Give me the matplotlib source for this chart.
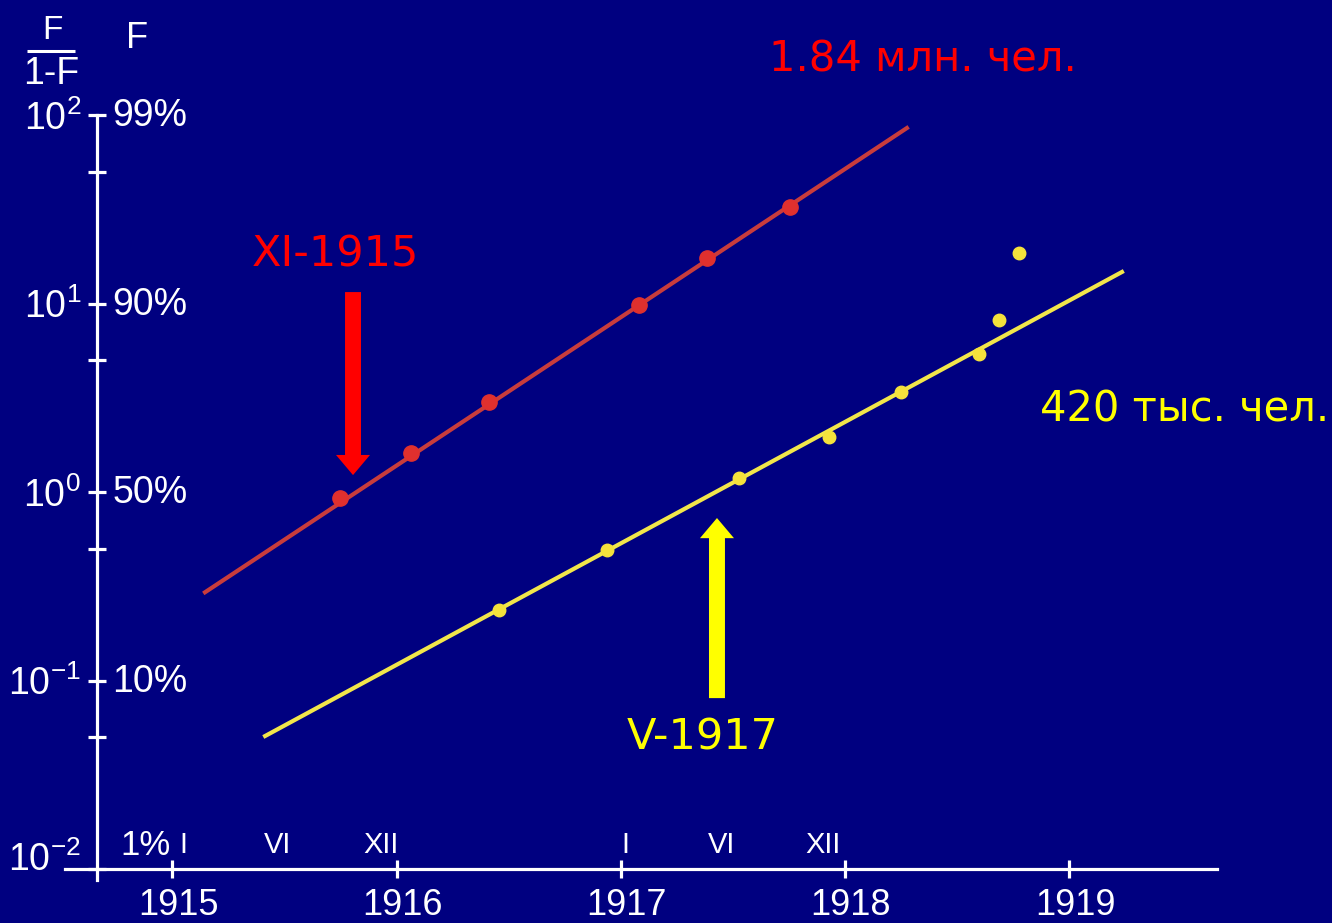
import matplotlib.pyplot as plt
from matplotlib.ticker import NullFormatter
from matplotlib.transforms import ScaledTranslation

BG = "#000080"
RED = "#ff0000"
YELLOW = "#ffff00"

# F/(1-F) by date, first wave (red) and second wave (yellow)
red_years = [1915.747, 1916.064, 1916.412, 1917.080, 1917.384, 1917.754]
red_ratio = [0.93, 1.61, 3.0, 9.8, 17.4, 32.5]
red_fit_years = [1915.145, 1918.275]
red_fit_ratio = [0.294, 85.3]

yel_years = [1916.456, 1916.938, 1917.526, 1917.927, 1918.248,
             1918.596, 1918.685, 1918.774]
yel_ratio = [0.237, 0.492, 1.19, 1.96, 3.40, 5.40, 8.17, 18.5]
yel_fit_years = [1915.413, 1919.234]
yel_fit_ratio = [0.0508, 14.7]

year_ticks = [1915, 1916, 1917, 1918, 1919]
ratio_ticks = [1e-2, 1e-1, 1e0, 1e1, 1e2]
ratio_labels = [r"$10^{-2}$", r"$10^{-1}$", r"$10^{0}$", r"$10^{1}$", r"$10^{2}$"]
share_labels = ["1%", "10%", "50%", "90%", "99%"]
minor_ticks = [0.05, 0.5, 5, 50]
month_pos = [1915.05, 1915.47, 1915.93, 1917.02, 1917.45, 1917.90]
month_names = ["I", "VI", "XII", "I", "VI", "XII"]

plt.rcParams["font.family"] = ["Liberation Sans", "DejaVu Sans"]
plt.rcParams["mathtext.fontset"] = "custom"
plt.rcParams["mathtext.rm"] = "Liberation Sans"
plt.rcParams["mathtext.it"] = "Liberation Sans"
plt.rcParams["mathtext.default"] = "regular"

fig = plt.figure(figsize=(13.32, 9.23), dpi=100, facecolor=BG)
ax = fig.add_axes([0, 0, 1, 1], facecolor=BG)
ax.set_yscale("log")
ax.set_xlim(1914.2308, 1920.1706)
ax.set_ylim(10 ** -2.286, 10 ** 2.610)

y_axis_x = 1914.6633
for side in ("top", "right"):
    ax.spines[side].set_visible(False)
ax.spines["left"].set_position(("data", y_axis_x))
ax.spines["left"].set_bounds(0.00875, 100)
ax.spines["bottom"].set_position(("data", 0.01))
ax.spines["bottom"].set_bounds(1914.5206, 1919.658)
for side in ("left", "bottom"):
    ax.spines[side].set_color("white")
    ax.spines[side].set_linewidth(2.3)

ax.set_xticks(year_ticks)
ax.set_xticklabels([str(y) for y in year_ticks], fontsize=26)
ax.set_yticks(ratio_ticks)
ax.set_yticklabels(ratio_labels, fontsize=27)
ax.set_yticks(minor_ticks, minor=True)
ax.yaxis.set_minor_formatter(NullFormatter())
ax.tick_params(axis="both", which="both", direction="inout", length=13,
               width=2.3, colors="white")
ax.tick_params(axis="x", pad=7)
ax.tick_params(axis="y", pad=5)

# the lowest ratio label sits a little above its tick
low = ax.get_yticklabels()[0]
low.set_transform(low.get_transform() + ScaledTranslation(0, 9 / 72, fig.dpi_scale_trans))
for lab in ax.get_xticklabels():
    lab.set_transform(lab.get_transform() + ScaledTranslation(4 / 72, 0, fig.dpi_scale_trans))

# F scale next to the ratio scale
for val, lab in zip(ratio_ticks[1:], share_labels[1:]):
    ax.annotate(lab, xy=(y_axis_x, val), xytext=(11, -1), textcoords="offset points",
                color="white", fontsize=27, ha="left", va="center")
ax.text(1914.88, 0.0134, share_labels[0], color="white", fontsize=25,
        ha="center", va="center")

# month marks above the time axis
for x, m in zip(month_pos, month_names):
    ax.text(x, 0.0134, m, color="white", fontsize=21, ha="center", va="center")

# axis headers
ax.text(1914.466, 10 ** 2.45, "F", color="white", fontsize=24, ha="center", va="center")
ax.plot([1914.350, 1914.564], [10 ** 2.34, 10 ** 2.34], color="white", lw=2.2,
        solid_capstyle="butt")
ax.text(1914.460, 10 ** 2.215, "1-F", color="white", fontsize=27, ha="center", va="center")
ax.text(1914.84, 10 ** 2.405, "F", color="white", fontsize=26, ha="center", va="center")

# fitted lines and observations
ax.plot(red_fit_years, red_fit_ratio, color="#c83c3c", lw=3, zorder=2)
ax.plot(red_years, red_ratio, "o", color="#e0302e", ms=11, mec="#e0302e", zorder=3)
ax.plot(yel_fit_years, yel_fit_ratio, color="#f2e64a", lw=3, zorder=2)
ax.plot(yel_years, yel_ratio, "o", color="#f5e23c", ms=9, mec="#f5e23c", zorder=3)

arrow_style = "simple,head_width=2.45,head_length=1.45,tail_width=1.15"
ax.annotate("", xy=(1915.805, 1.23), xytext=(1915.805, 11.5),
            arrowprops=dict(arrowstyle=arrow_style, color=RED, lw=0,
                            shrinkA=0, shrinkB=0, mutation_scale=10))
ax.annotate("", xy=(1917.428, 0.728), xytext=(1917.428, 0.0807),
            arrowprops=dict(arrowstyle=arrow_style, color=YELLOW, lw=0,
                            shrinkA=0, shrinkB=0, mutation_scale=10))

ax.text(1915.725, 18.1, "XI-1915", color=RED, fontsize=31, family="DejaVu Sans",
        ha="center", va="center")
ax.text(1917.366, 0.050, "V-1917", color=YELLOW, fontsize=31, family="DejaVu Sans",
        ha="center", va="center")
ax.text(1918.348, 196, "1.84 млн. чел.", color=RED, fontsize=30, family="DejaVu Sans",
        ha="center", va="center")
ax.text(1918.868, 2.75, "420 тыс. чел.", color=YELLOW, fontsize=30, family="DejaVu Sans",
        ha="left", va="center")

fig.savefig("out.png", dpi=100, facecolor=BG)
